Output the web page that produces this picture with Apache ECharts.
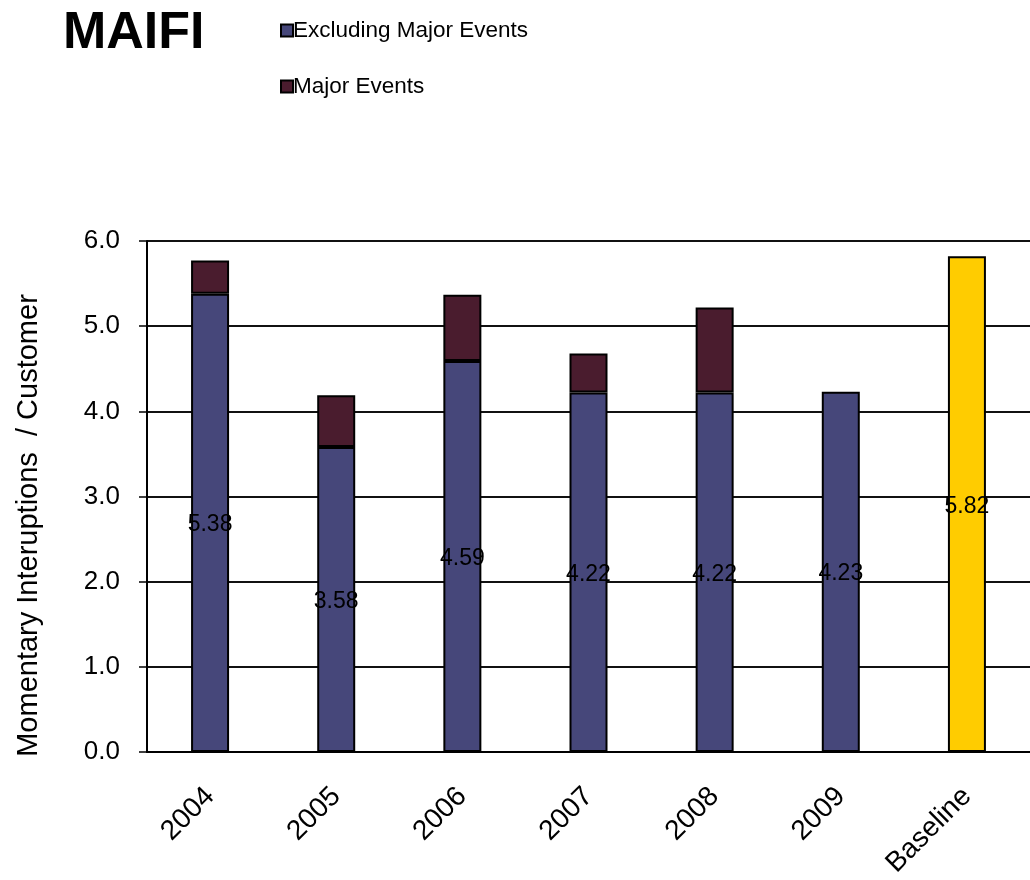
<!DOCTYPE html>
<html>
<head>
    <meta charset="utf-8" />
    <title>MAIFI</title>
    <script src="https://cdn.jsdelivr.net/npm/echarts@6/dist/echarts.min.js"></script>
    <style>
        html, body { margin: 0; padding: 0; background: #fff; }
        #EChart { width: 1030px; height: 880px; }
    </style>
</head>
<body>
    <div id="EChart"></div>
    <script type="text/javascript">
        // chart data
        var categories = ['2004', '2005', '2006', '2007', '2008', '2009', 'Baseline'];
        var excludingMajor = [5.38, 3.58, 4.59, 4.22, 4.22, 4.23, 5.82];
        var majorEvents = [0.39, 0.61, 0.78, 0.46, 1.00, '-', '-'];
        var yTicks = { min: 0, max: 6, interval: 1 };

        var font = 'Liberation Sans, Arial, sans-serif';

        // baseline bar is yellow, the rest purple
        var excludingData = excludingMajor.map(function (v, i) {
            if (categories[i] === 'Baseline') {
                return { value: v, itemStyle: { color: '#FFCC00' } };
            }
            return v;
        });

        var option = {
            animation: false,
            backgroundColor: '#fff',
            title: {
                text: 'MAIFI',
                left: 58,
                top: 3,
                textStyle: { fontFamily: font, fontSize: 52, fontWeight: 'bold', color: '#000' }
            },
            legend: {
                orient: 'vertical',
                left: 275,
                top: 14,
                itemWidth: 12,
                itemHeight: 12,
                itemGap: 33,
                icon: 'rect',
                textStyle: { fontFamily: font, fontSize: 22.5, color: '#000', padding: [0, 0, 0, -5] },
                data: ['Excluding Major Events', 'Major Events']
            },
            grid: {
                left: 147,
                top: 241,
                width: 889,
                height: 511
            },
            xAxis: {
                type: 'category',
                data: categories,
                axisLine: { lineStyle: { color: '#000', width: 2 } },
                axisTick: { length: 10, lineStyle: { color: '#000', width: 1.5 } },
                axisLabel: {
                    rotate: 45,
                    margin: 40,
                    interval: 0,
                    fontFamily: font,
                    fontSize: 28,
                    color: '#000'
                }
            },
            yAxis: {
                type: 'value',
                min: yTicks.min,
                max: yTicks.max,
                interval: yTicks.interval,
                name: 'Momentary Interuptions  / Customer',
                nameLocation: 'middle',
                nameGap: 104,
                nameTextStyle: { fontFamily: font, fontSize: 29, color: '#000', padding: [0, 58, 0, 0] },
                axisLine: { show: true, lineStyle: { color: '#000', width: 2 } },
                axisTick: { show: true, length: 8, lineStyle: { color: '#000', width: 1.5 } },
                axisLabel: {
                    margin: 27,
                    fontFamily: font,
                    fontSize: 26,
                    color: '#000',
                    formatter: function (v) { return v.toFixed(1); }
                },
                splitLine: { lineStyle: { color: '#111', width: 2 } }
            },
            series: [{
                name: 'Excluding Major Events',
                type: 'bar',
                stack: 'total',
                barWidth: 38,
                data: excludingData,
                itemStyle: { color: '#46477A', borderColor: '#000', borderWidth: 2 },
                label: {
                    show: true,
                    position: 'inside',
                    offset: [0, 2],
                    fontFamily: font,
                    fontSize: 23,
                    color: '#000',
                    formatter: function (p) { return p.value.toFixed(2); }
                }
            }, {
                name: 'Major Events',
                type: 'bar',
                stack: 'total',
                barWidth: 38,
                data: majorEvents,
                itemStyle: { color: '#4A1C2E', borderColor: '#000', borderWidth: 2 }
            }]
        };

        var myChart = echarts.init(document.getElementById('EChart'));
        myChart.setOption(option);
    </script>
</body>
</html>
